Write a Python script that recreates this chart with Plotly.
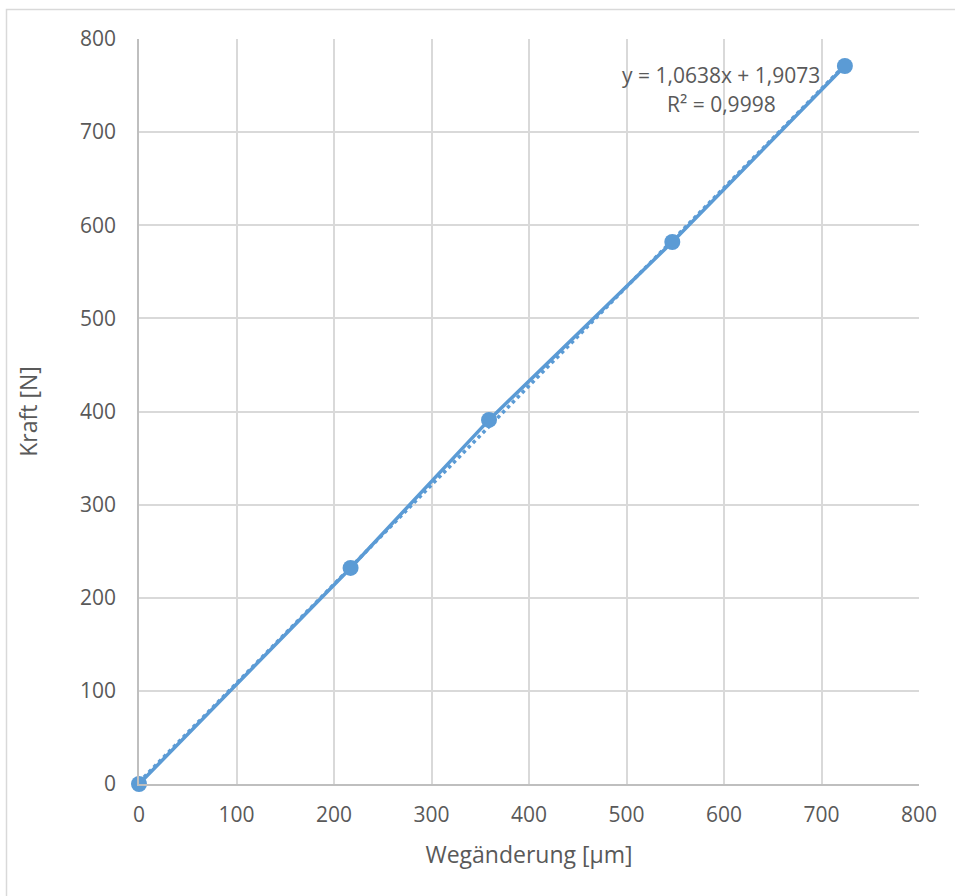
import plotly.graph_objects as go

# Data
weg = [0, 217, 359, 547, 724]          # Wegänderung [µm]
kraft = [0, 232, 391, 582, 771]        # Kraft [N]
slope = 1.0638
intercept = 1.9073
trend_x = [0, 724]
trend_y = [slope * x + intercept for x in trend_x]
x_ticks = [0, 100, 200, 300, 400, 500, 600, 700, 800]
y_ticks = [0, 100, 200, 300, 400, 500, 600, 700, 800]

W, H = 955, 896
ML, MR, MT, MB = 139, 36, 39, 112
PW, PH = W - ML - MR, H - MT - MB

blue = "#5B9BD5"
FONT = "Open Sans"
FS = 21
FT = 23
txt = "#595959"

fig = go.Figure()
fig.add_trace(go.Scatter(
    x=trend_x, y=trend_y, mode="lines",
    line=dict(color=blue, width=3.5, dash="dot"),
    hoverinfo="skip", showlegend=False, cliponaxis=False))
fig.add_trace(go.Scatter(
    x=weg, y=kraft, mode="lines+markers",
    line=dict(color=blue, width=3.5),
    marker=dict(color=blue, size=16),
    showlegend=False, cliponaxis=False))

def px_x(p):
    return (p - ML) / PW

def px_y(p):
    return 1 - (p - MT) / PH

# outer chart border
fig.add_shape(type="rect", xref="paper", yref="paper",
              x0=px_x(6.5), x1=px_x(975), y0=px_y(9.5), y1=px_y(920),
              line=dict(color="#D9D9D9", width=1.5), layer="below")

fig.add_annotation(x=px_x(721), y=px_y(75), xref="paper", yref="paper",
                   xanchor="center", yanchor="middle",
                   text="y = 1,0638x + 1,9073", showarrow=False,
                   font=dict(family=FONT, size=FS, color=txt))
fig.add_annotation(x=px_x(721), y=px_y(104), xref="paper", yref="paper",
                   xanchor="center", yanchor="middle",
                   text="R² = 0,9998", showarrow=False,
                   font=dict(family=FONT, size=FS, color=txt))

fig.update_layout(
    width=W, height=H,
    margin=dict(l=ML, r=MR, t=MT, b=MB),
    paper_bgcolor="white", plot_bgcolor="white",
    font=dict(family=FONT, size=FS, color=txt),
    xaxis=dict(range=[0, 800], tickvals=x_ticks, ticktext=[str(v) for v in x_ticks],
               showgrid=True, gridcolor="#D9D9D9", gridwidth=1.5,
               showline=True, linecolor="#BFBFBF", linewidth=1.5,
               zeroline=False, ticks="", ticklabelstandoff=11,
               tickfont=dict(family=FONT, size=FS, color=txt),
               title=dict(text="Wegänderung [µm]", standoff=20,
                          font=dict(family=FONT, size=FT, color=txt))),
    yaxis=dict(range=[0, 800], tickvals=y_ticks, ticktext=[str(v) for v in y_ticks],
               showgrid=True, gridcolor="#D9D9D9", gridwidth=1.5,
               showline=True, linecolor="#BFBFBF", linewidth=1.5,
               zeroline=False, ticks="", ticklabelstandoff=17,
               tickfont=dict(family=FONT, size=FS, color=txt),
               title=dict(text="Kraft [N]", standoff=36,
                          font=dict(family=FONT, size=FT, color=txt))),
)

fig.write_html("out.html")
